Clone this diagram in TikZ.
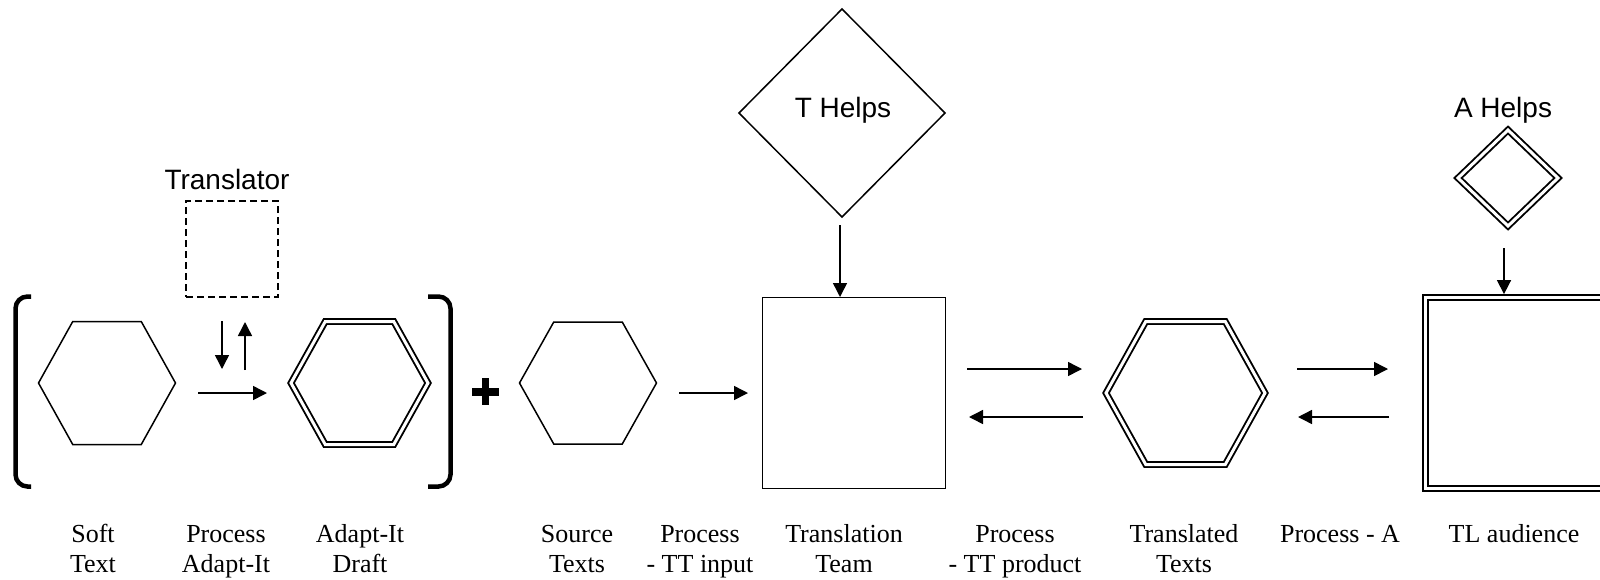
\documentclass[tikz,border=0pt]{standalone}
\usepackage{fontspec}
\setmainfont{Liberation Serif}
\newfontfamily\helpfont{Liberation Sans}
\usetikzlibrary{shapes.geometric, arrows.meta, calc}

% hexagon with its corners on the sides of a rectangular holder node
\newcommand{\drawhex}[2]{%
  \draw[#1] (#2.west)
    -- ($(#2.north west)!0.25!(#2.north east)$)
    -- ($(#2.north west)!0.75!(#2.north east)$)
    -- (#2.east)
    -- ($(#2.south west)!0.75!(#2.south east)$)
    -- ($(#2.south west)!0.25!(#2.south east)$)
    -- cycle;}

\begin{document}
\begin{tikzpicture}[x=1pt, y=-1pt,
  holder/.style={rectangle, draw=none, inner sep=0pt, outer sep=0pt},
  thinline/.style={line width=1.5pt},
  dblline/.style={line width=1.9pt, double, double distance=3pt},
  arr/.style={line width=1.5pt, -{Triangle[length=14pt,width=14pt]}},
  caption/.style={font=\fontsize{26}{30}\selectfont, align=center, anchor=base, inner sep=0pt},
  helptext/.style={font=\helpfont\fontsize{28}{32}\selectfont, anchor=base, inner sep=0pt},
  bracket/.style={line width=4.5pt, rounded corners=12pt},
]
\useasboundingbox (0,0) rectangle (1600,579);
\clip (0,0) rectangle (1600,579);

% ---- Adapt-It stage inside brackets
\draw[bracket] (31,296.5) -- (15.5,296.5) -- (15.5,486.5) -- (31,486.5);
\draw[bracket] (428,296.5) -- (450.5,296.5) -- (450.5,486.5) -- (428,486.5);

\node[holder, minimum width=137pt, minimum height=123pt] (hex1) at (107,383) {};
\drawhex{thinline}{hex1}

\node[holder, minimum width=137pt, minimum height=123pt] (dhex1) at (359.5,383) {};
\drawhex{dblline}{dhex1}

\node[rectangle, draw, thinline, dash pattern=on 7pt off 4pt, inner sep=0pt, outer sep=0pt,
      minimum width=92pt, minimum height=96pt] (tr) at (232,249) {};
\node[helptext] (trtext) at (227,189) {Translator};

\draw[arr, shorten <=22.5pt, shorten >=24pt]
  ([yshift=-10pt]hex1.east) -- coordinate[pos=0.5] (pa) ([yshift=-10pt]dhex1.west);
\draw[arr, shorten <=24pt, shorten >=24pt]
  ([xshift=-10pt]tr.south) -- ([xshift=-10pt]tr.south |- pa);
\draw[arr, shorten <=23pt, shorten >=25pt]
  ([xshift=13pt]tr.south |- pa) -- ([xshift=13pt]tr.south);

% ---- plus sign
\node[holder, minimum size=27pt] (plus) at (485.5,391.5) {};
\fill ([yshift=4pt]plus.west) rectangle ([yshift=-4pt]plus.east);
\fill ([xshift=-3.5pt]plus.north) rectangle ([xshift=3.5pt]plus.south);

% ---- source texts and translation team
\node[holder, minimum width=137pt, minimum height=122pt] (hex2) at (588,383) {};
\drawhex{thinline}{hex2}

\node[rectangle, draw, thinline, inner sep=0pt, outer sep=0pt,
      minimum width=183pt, minimum height=191pt] (tt) at (854,393) {};

\node[diamond, draw, thinline, inner sep=0pt, outer sep=0pt,
      minimum width=206pt, minimum height=208pt] (th) at (842,113) {};
\node[helptext] (thtext) at (843,117) {T Helps};

\draw[arr, shorten <=22.5pt, shorten >=14.5pt] ([yshift=-10pt]hex2.east) -- (tt.west);
\draw[arr, shorten <=8pt, shorten >=0.5pt]
  ([xshift=-2pt]th.south) -- ([xshift=-2pt]th.south |- tt.north);

% ---- translated texts
\node[holder, minimum width=159pt, minimum height=143pt] (dhex2) at (1185.5,393) {};
\drawhex{dblline}{dhex2}

\draw[arr, shorten <=21.5pt, shorten >=24pt] ([yshift=24pt]tt.east) -- ([yshift=24pt]dhex2.west);
\draw[arr, shorten <=23pt, shorten >=23.5pt] ([yshift=-24pt]dhex2.west) -- ([yshift=-24pt]tt.east);

% ---- TL audience
\node[rectangle, draw, dblline, inner sep=0pt, outer sep=0pt,
      minimum width=183pt, minimum height=191pt] (ds) at (1517,393) {};

\node[diamond, draw, dblline, inner sep=0pt, outer sep=0pt,
      minimum width=100pt, minimum height=96pt] (ah) at (1508,178) {};
\node[helptext] (ahtext) at (1503,117) {A Helps};

\draw[arr, shorten <=32pt, shorten >=37.5pt] ([yshift=24pt]dhex2.east) -- ([yshift=24pt]ds.west);
\draw[arr, shorten <=36.5pt, shorten >=33pt] ([yshift=-24pt]ds.west) -- ([yshift=-24pt]dhex2.east);
\draw[arr, shorten <=22pt, shorten >=3.4pt]
  ([xshift=-4pt]ah.south) -- ([xshift=-4pt]ah.south |- ds.north);

% ---- captions (two-line captions sit on the baseline of their last line)
\node[caption] (lsoft)   at (93,572)   {Soft\\Text};
\node[caption] (lproca)  at (226,572)  {Process\\Adapt-It};
\node[caption] (ldraft)  at (360,572)  {Adapt-It\\Draft};
\node[caption] (lsource) at (577,572)  {Source\\Texts};
\node[caption] (lin)     at (700,572)  {Process\\- TT input};
\node[caption] (lteam)   at (844,572)  {Translation\\Team};
\node[caption] (lprod)   at (1015,572) {Process\\- TT product};
\node[caption] (ltrans)  at (1184,572) {Translated\\Texts};
\node[caption] (lproc)   at (1340,542) {Process - A};
\node[caption] (laud)    at (1514,542) {TL audience};
\end{tikzpicture}
\end{document}
